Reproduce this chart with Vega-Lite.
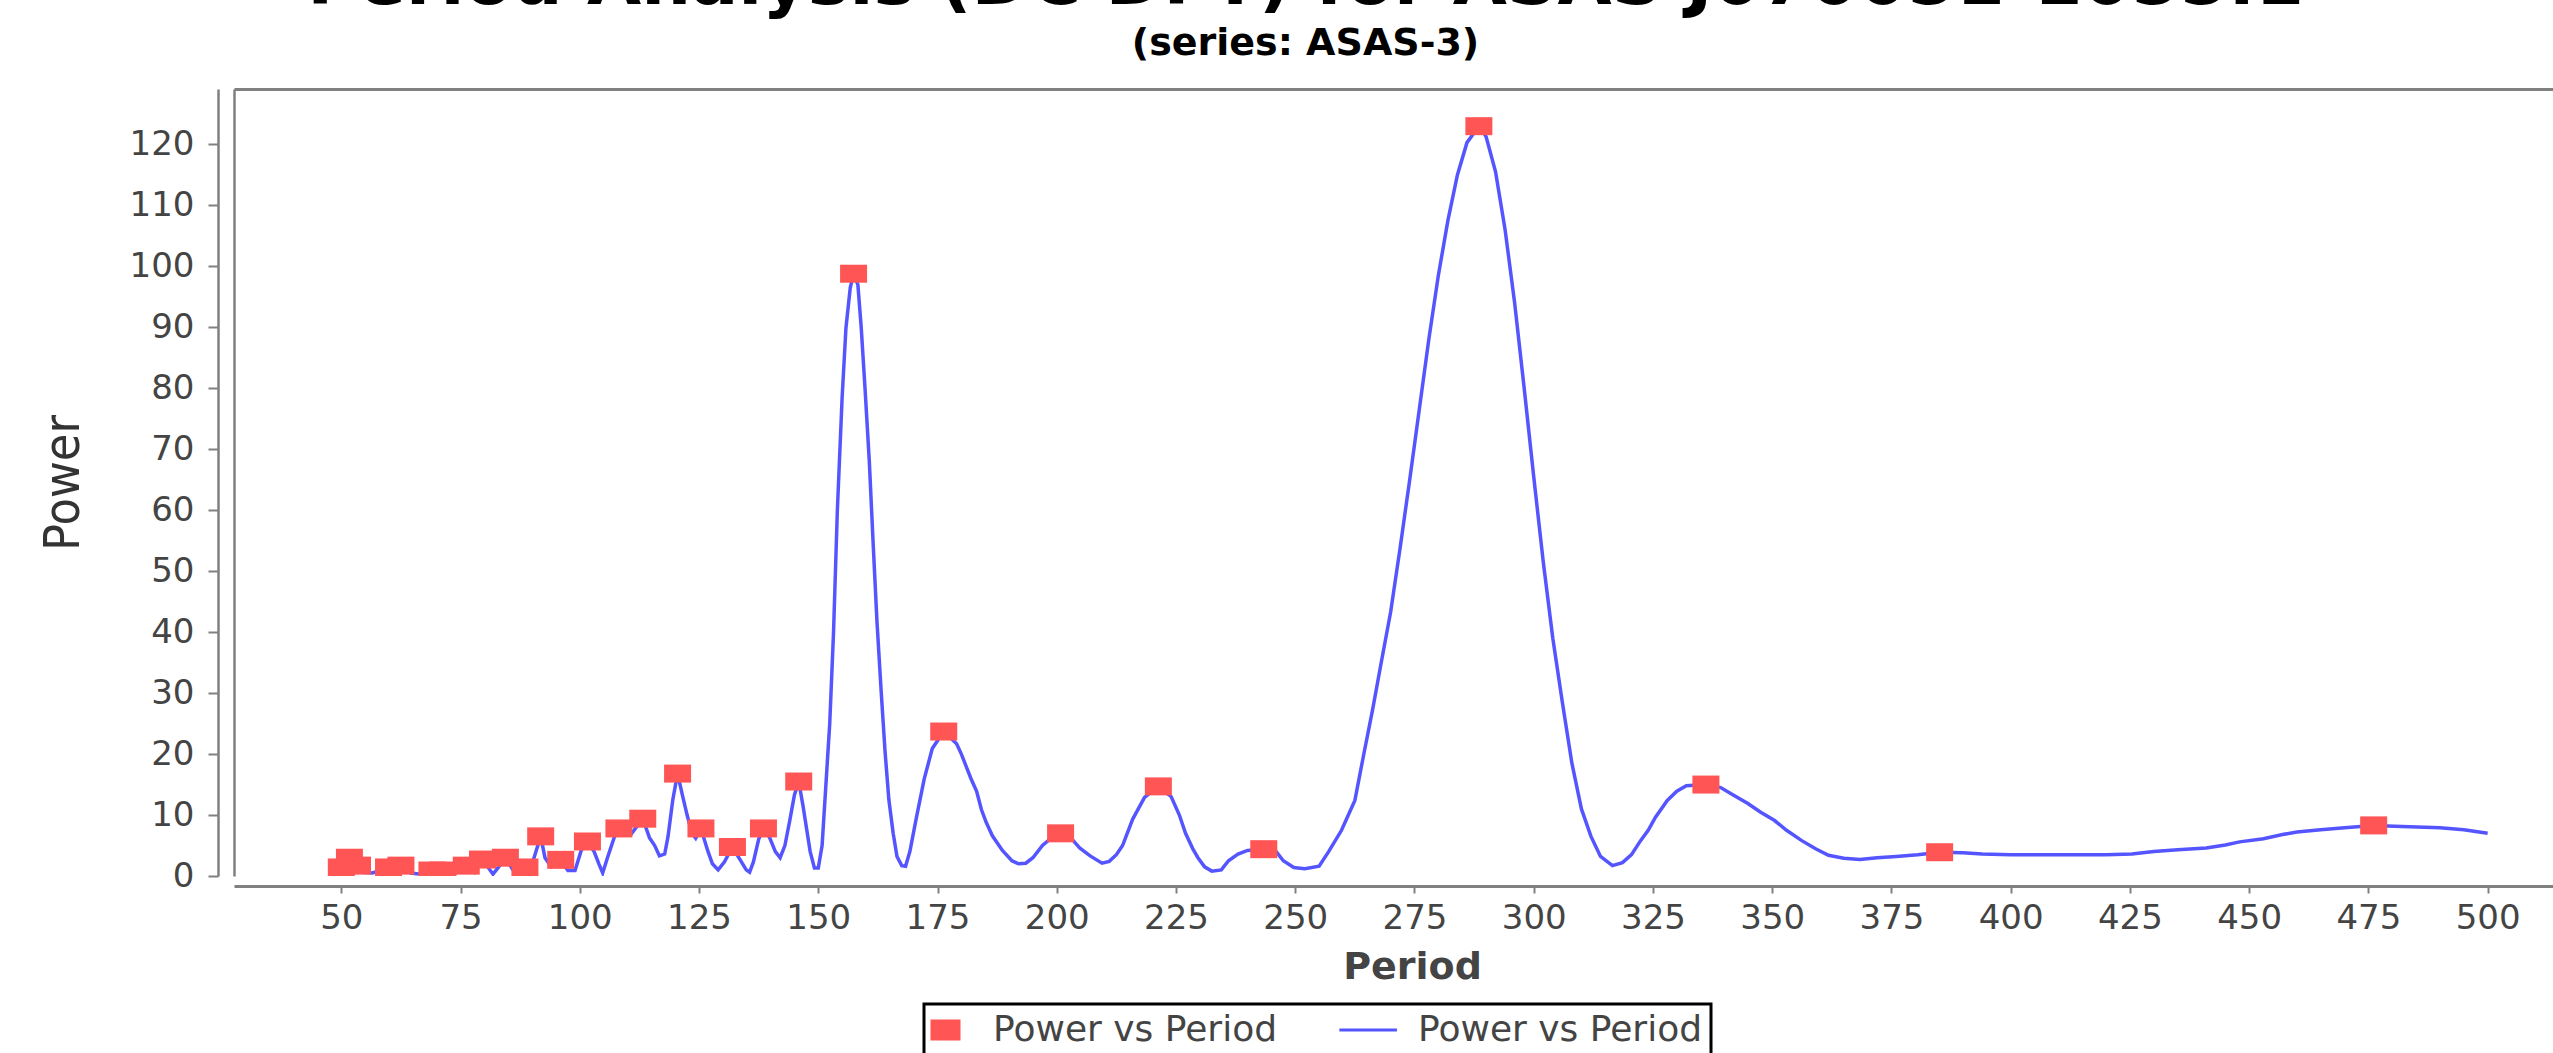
{
  "$schema": "https://vega.github.io/schema/vega-lite/v6.json",
  "autosize": {"type": "none"},
  "width": 2319,
  "height": 787,
  "padding": {"left": 234, "top": 89, "right": 0, "bottom": 177},
  "background": "white",
  "config": {"view": {"stroke": null}},
  "title": {
    "text": "Period Analysis (DC DFT) for ASAS J070051-1055.1",
    "subtitle": "(series: ASAS-3)",
    "anchor": "middle",
    "frame": "group",
    "dx": -88,
    "offset": 25,
    "font": "DejaVu Sans",
    "fontSize": 70,
    "fontWeight": "bold",
    "color": "#000000",
    "subtitleFont": "DejaVu Sans",
    "subtitleFontSize": 38,
    "subtitleFontWeight": "bold",
    "subtitleColor": "#000000",
    "subtitlePadding": 6
  },
  "datasets": {
    "curve": [
      {"period": 50.0, "power": 1.4}, {"period": 50.8, "power": 0.8}, {"period": 51.7, "power": 3.0}, {"period": 52.6, "power": 1.2},
      {"period": 53.4, "power": 1.7}, {"period": 54.5, "power": 0.6}, {"period": 56.5, "power": 0.5}, {"period": 58.2, "power": 0.9},
      {"period": 59.9, "power": 1.4}, {"period": 61.2, "power": 0.7}, {"period": 62.5, "power": 1.7}, {"period": 64.5, "power": 0.5},
      {"period": 66.7, "power": 0.3}, {"period": 69.0, "power": 0.9}, {"period": 70.2, "power": 0.4}, {"period": 71.3, "power": 0.9},
      {"period": 73.6, "power": 0.3}, {"period": 76.2, "power": 1.7}, {"period": 77.9, "power": 0.6}, {"period": 79.6, "power": 2.7},
      {"period": 81.8, "power": 0.3}, {"period": 83.0, "power": 1.5}, {"period": 84.4, "power": 3.0}, {"period": 86.2, "power": 0.7},
      {"period": 87.2, "power": 0.6}, {"period": 88.5, "power": 1.4}, {"period": 89.5, "power": 0.7}, {"period": 90.6, "power": 3.5},
      {"period": 91.8, "power": 6.5}, {"period": 92.7, "power": 3.0}, {"period": 94.0, "power": 1.5}, {"period": 96.0, "power": 2.65},
      {"period": 97.5, "power": 0.9}, {"period": 99.0, "power": 0.9}, {"period": 100.3, "power": 4.2}, {"period": 101.6, "power": 5.66},
      {"period": 103.0, "power": 4.0}, {"period": 104.0, "power": 2.0}, {"period": 104.8, "power": 0.5}, {"period": 105.8, "power": 3.0},
      {"period": 107.2, "power": 6.3}, {"period": 108.2, "power": 7.8}, {"period": 110.7, "power": 6.8}, {"period": 113.2, "power": 9.4},
      {"period": 114.6, "power": 6.3}, {"period": 115.7, "power": 5.0}, {"period": 116.7, "power": 3.3}, {"period": 117.8, "power": 3.6},
      {"period": 118.5, "power": 6.5}, {"period": 119.5, "power": 12.5}, {"period": 120.5, "power": 16.8}, {"period": 121.5, "power": 13.3},
      {"period": 122.5, "power": 10.0}, {"period": 123.5, "power": 7.0}, {"period": 124.3, "power": 6.2}, {"period": 125.4, "power": 7.8},
      {"period": 126.8, "power": 4.2}, {"period": 127.8, "power": 2.0}, {"period": 129.0, "power": 1.0}, {"period": 130.3, "power": 2.3},
      {"period": 132.0, "power": 4.76}, {"period": 133.5, "power": 2.8}, {"period": 134.9, "power": 1.0}, {"period": 135.6, "power": 0.6},
      {"period": 136.4, "power": 2.3}, {"period": 137.5, "power": 6.0}, {"period": 138.5, "power": 7.8}, {"period": 139.8, "power": 6.3},
      {"period": 141.0, "power": 4.0}, {"period": 142.0, "power": 3.0}, {"period": 143.0, "power": 5.0}, {"period": 144.0, "power": 9.0},
      {"period": 145.0, "power": 13.3}, {"period": 145.9, "power": 15.5}, {"period": 146.8, "power": 11.5}, {"period": 147.6, "power": 7.5},
      {"period": 148.3, "power": 4.0}, {"period": 149.2, "power": 1.3}, {"period": 150.0, "power": 1.3}, {"period": 150.8, "power": 5.0},
      {"period": 151.6, "power": 15.0}, {"period": 152.4, "power": 25.0}, {"period": 153.2, "power": 40.0}, {"period": 154.0, "power": 60.0},
      {"period": 155.0, "power": 78.5}, {"period": 155.8, "power": 89.9}, {"period": 156.7, "power": 96.5}, {"period": 157.4, "power": 98.8},
      {"period": 158.3, "power": 97.0}, {"period": 159.0, "power": 90.0}, {"period": 159.8, "power": 80.0}, {"period": 160.7, "power": 68.0},
      {"period": 161.5, "power": 54.6}, {"period": 162.3, "power": 41.8}, {"period": 163.2, "power": 30.1}, {"period": 164.0, "power": 20.4},
      {"period": 164.8, "power": 12.5}, {"period": 165.7, "power": 7.0}, {"period": 166.5, "power": 3.2}, {"period": 167.5, "power": 1.7},
      {"period": 168.3, "power": 1.6}, {"period": 169.2, "power": 4.0}, {"period": 170.5, "power": 9.3}, {"period": 172.2, "power": 15.9},
      {"period": 173.9, "power": 20.9}, {"period": 176.3, "power": 23.7}, {"period": 179.0, "power": 21.7}, {"period": 180.0, "power": 20.0},
      {"period": 181.0, "power": 18.0}, {"period": 182.0, "power": 16.0}, {"period": 183.2, "power": 13.9}, {"period": 184.2, "power": 10.9},
      {"period": 185.2, "power": 8.8}, {"period": 186.5, "power": 6.6}, {"period": 188.6, "power": 4.2}, {"period": 190.6, "power": 2.5},
      {"period": 192.0, "power": 2.0}, {"period": 193.5, "power": 2.1}, {"period": 195.0, "power": 3.0}, {"period": 197.0, "power": 5.0},
      {"period": 198.5, "power": 6.0}, {"period": 200.8, "power": 7.0}, {"period": 203.0, "power": 6.2}, {"period": 204.8, "power": 4.6},
      {"period": 207.0, "power": 3.3}, {"period": 209.5, "power": 2.1}, {"period": 211.0, "power": 2.4}, {"period": 212.5, "power": 3.5},
      {"period": 213.8, "power": 5.0}, {"period": 215.9, "power": 9.3}, {"period": 218.4, "power": 12.9}, {"period": 221.3, "power": 14.7},
      {"period": 224.0, "power": 13.0}, {"period": 225.7, "power": 10.0}, {"period": 227.0, "power": 7.0}, {"period": 228.5, "power": 4.5},
      {"period": 229.6, "power": 3.0}, {"period": 231.0, "power": 1.5}, {"period": 232.5, "power": 0.8}, {"period": 234.5, "power": 1.0},
      {"period": 236.0, "power": 2.5}, {"period": 238.0, "power": 3.6}, {"period": 240.0, "power": 4.2}, {"period": 243.4, "power": 4.4},
      {"period": 246.0, "power": 4.0}, {"period": 247.5, "power": 2.5}, {"period": 249.7, "power": 1.4}, {"period": 252.0, "power": 1.2},
      {"period": 255.0, "power": 1.6}, {"period": 257.0, "power": 4.0}, {"period": 259.7, "power": 7.5}, {"period": 262.5, "power": 12.4},
      {"period": 264.4, "power": 20.1}, {"period": 266.2, "power": 27.2}, {"period": 268.0, "power": 34.9}, {"period": 270.0, "power": 43.3},
      {"period": 272.0, "power": 53.9}, {"period": 274.0, "power": 65.0}, {"period": 276.0, "power": 76.5}, {"period": 278.0, "power": 88.0},
      {"period": 280.0, "power": 98.5}, {"period": 282.0, "power": 107.5}, {"period": 284.0, "power": 115.0}, {"period": 286.0, "power": 120.3},
      {"period": 288.5, "power": 123.0}, {"period": 290.0, "power": 121.3}, {"period": 292.0, "power": 115.5}, {"period": 294.0, "power": 106.0},
      {"period": 296.0, "power": 94.0}, {"period": 298.0, "power": 80.0}, {"period": 300.0, "power": 65.5}, {"period": 302.0, "power": 51.5},
      {"period": 304.0, "power": 39.0}, {"period": 306.0, "power": 28.5}, {"period": 308.0, "power": 18.5}, {"period": 310.0, "power": 11.0},
      {"period": 312.0, "power": 6.5}, {"period": 314.0, "power": 3.2}, {"period": 316.5, "power": 1.7}, {"period": 318.6, "power": 2.2},
      {"period": 320.5, "power": 3.5}, {"period": 322.4, "power": 5.8}, {"period": 324.0, "power": 7.5}, {"period": 325.5, "power": 9.6},
      {"period": 328.0, "power": 12.4}, {"period": 330.0, "power": 13.9}, {"period": 332.0, "power": 14.8}, {"period": 336.1, "power": 15.0},
      {"period": 339.2, "power": 14.5}, {"period": 342.0, "power": 13.2}, {"period": 344.9, "power": 11.9}, {"period": 347.5, "power": 10.5},
      {"period": 350.5, "power": 9.1}, {"period": 353.0, "power": 7.5}, {"period": 356.2, "power": 5.8}, {"period": 359.0, "power": 4.5},
      {"period": 361.8, "power": 3.4}, {"period": 365.0, "power": 2.9}, {"period": 368.4, "power": 2.7}, {"period": 372.0, "power": 3.0},
      {"period": 376.0, "power": 3.2}, {"period": 380.5, "power": 3.5}, {"period": 385.1, "power": 3.9}, {"period": 390.0, "power": 3.8},
      {"period": 394.0, "power": 3.6}, {"period": 400.0, "power": 3.5}, {"period": 410.0, "power": 3.5}, {"period": 420.0, "power": 3.5},
      {"period": 425.4, "power": 3.6}, {"period": 430.0, "power": 4.0}, {"period": 435.0, "power": 4.3}, {"period": 441.0, "power": 4.6},
      {"period": 445.0, "power": 5.1}, {"period": 448.0, "power": 5.6}, {"period": 453.0, "power": 6.1}, {"period": 457.0, "power": 6.8},
      {"period": 460.0, "power": 7.2}, {"period": 465.0, "power": 7.6}, {"period": 470.0, "power": 7.9}, {"period": 476.1, "power": 8.3},
      {"period": 482.0, "power": 8.1}, {"period": 490.0, "power": 7.9}, {"period": 495.0, "power": 7.6}, {"period": 500.0, "power": 7.0}
    ],
    "peaks": [
      {"period": 50.0, "power": 1.4}, {"period": 51.7, "power": 3.0}, {"period": 53.4, "power": 1.7}, {"period": 59.9, "power": 1.4},
      {"period": 62.5, "power": 1.7}, {"period": 69.0, "power": 0.9}, {"period": 71.3, "power": 0.9}, {"period": 76.2, "power": 1.7},
      {"period": 79.6, "power": 2.7}, {"period": 84.4, "power": 3.0}, {"period": 88.5, "power": 1.4}, {"period": 91.8, "power": 6.5},
      {"period": 96.0, "power": 2.65}, {"period": 101.6, "power": 5.66}, {"period": 108.2, "power": 7.8}, {"period": 113.2, "power": 9.4},
      {"period": 120.5, "power": 16.8}, {"period": 125.4, "power": 7.8}, {"period": 132.0, "power": 4.76}, {"period": 138.5, "power": 7.8},
      {"period": 145.9, "power": 15.5}, {"period": 157.4, "power": 98.8}, {"period": 176.3, "power": 23.7}, {"period": 200.8, "power": 7.0},
      {"period": 221.3, "power": 14.7}, {"period": 243.4, "power": 4.4}, {"period": 288.5, "power": 123.0}, {"period": 336.1, "power": 15.0},
      {"period": 385.1, "power": 3.9}, {"period": 476.1, "power": 8.3}
    ]
  },
  "layer": [
    {
      "data": {"name": "curve"},
      "mark": {"type": "line", "strokeWidth": 3.5, "clip": true},
      "encoding": {
        "x": {
          "field": "period", "type": "quantitative",
          "scale": {"domain": [27.5, 513.7], "nice": false, "zero": false},
          "axis": {
            "orient": "bottom", "offset": 10, "grid": false,
            "values": [50, 75, 100, 125, 150, 175, 200, 225, 250, 275, 300, 325, 350, 375, 400, 425, 450, 475, 500],
            "tickSize": 7, "tickWidth": 2, "tickColor": "#808080",
            "domainColor": "#808080", "domainWidth": 3,
            "labelFont": "DejaVu Sans", "labelFontSize": 34, "labelColor": "#444444", "labelPadding": 8,
            "labelFlush": false, "labelOverlap": false,
            "title": "Period", "titleFont": "DejaVu Sans", "titleFontSize": 38, "titleFontWeight": "bold",
            "titleColor": "#444444", "titleX": 1178, "titleY": 92, "titleBaseline": "alphabetic", "titleAlign": "center"
          }
        },
        "y": {
          "field": "power", "type": "quantitative",
          "scale": {"domain": [0, 129.1], "nice": false, "zero": false},
          "axis": {
            "orient": "left", "offset": 16, "grid": false,
            "values": [0, 10, 20, 30, 40, 50, 60, 70, 80, 90, 100, 110, 120],
            "tickSize": 10, "tickWidth": 2, "tickColor": "#808080",
            "domainColor": "#808080", "domainWidth": 2.5,
            "labelFont": "DejaVu Sans", "labelFontSize": 34, "labelColor": "#444444", "labelPadding": 14,
            "labelFlush": false, "labelOverlap": false,
            "title": "Power", "titleFont": "DejaVu Sans Condensed, Liberation Sans Narrow, Liberation Sans, sans-serif", "titleFontSize": 50, "titleFontWeight": "normal",
            "titleColor": "#333333", "titleX": -155, "titleY": 393.5, "titleAngle": 270,
            "titleAlign": "center", "titleBaseline": "middle"
          }
        },
        "color": {
          "datum": "line", "type": "nominal",
          "scale": {"domain": ["pts", "line"], "range": ["#ff5555", "#5555ff"]},
          "legend": {
            "orient": "none", "legendX": 690, "legendY": 915, "direction": "horizontal", "title": null,
            "labelExpr": "'Power vs Period'", "labelFont": "DejaVu Sans", "labelFontSize": 36, "labelColor": "#444444",
            "labelLimit": 600, "labelOffset": 25, "columnPadding": 55, "padding": 8, "symbolSize": 324,
            "fillColor": "white", "strokeColor": "black",
            "encode": {
              "legend": {"update": {"strokeWidth": {"value": 3}}},
              "symbols": {"update": {
                "shape": {"signal": "datum.value === 'line' ? 'M-3.96,0H2.44' : 'M-2,-1H1V1H-2Z'"},
                "fill": {"signal": "datum.value === 'line' ? 'transparent' : '#ff5555'"},
                "stroke": {"signal": "datum.value === 'line' ? '#5555ff' : 'transparent'"},
                "strokeWidth": {"value": 3},
                "size": {"value": 324},
                "opacity": {"value": 1}
              }}
            }
          }
        }
      }
    },
    {
      "data": {"name": "peaks"},
      "mark": {"type": "point", "shape": "M-1.5,-1H1.5V1H-1.5Z", "size": 324, "filled": true, "opacity": 1, "clip": true},
      "encoding": {
        "x": {
          "field": "period", "type": "quantitative",
          "scale": {"domain": [27.5, 513.7], "nice": false, "zero": false},
          "axis": {"orient": "top", "labels": false, "ticks": false, "title": null, "grid": false, "domainColor": "#808080", "domainWidth": 3}
        },
        "y": {
          "field": "power", "type": "quantitative",
          "scale": {"domain": [0, 129.1], "nice": false, "zero": false},
          "axis": {"orient": "left", "offset": 0, "labels": false, "ticks": false, "title": null, "grid": false, "domainColor": "#808080", "domainWidth": 2.5}
        },
        "color": {
          "datum": "pts", "type": "nominal",
          "legend": {
            "orient": "none", "legendX": 690, "legendY": 915, "direction": "horizontal", "title": null,
            "labelExpr": "'Power vs Period'", "labelFont": "DejaVu Sans", "labelFontSize": 36, "labelColor": "#444444",
            "labelLimit": 600, "labelOffset": 25, "columnPadding": 55, "padding": 8, "symbolSize": 324,
            "fillColor": "white", "strokeColor": "black",
            "encode": {
              "legend": {"update": {"strokeWidth": {"value": 3}}},
              "symbols": {"update": {
                "shape": {"signal": "datum.value === 'line' ? 'M-3.96,0H2.44' : 'M-2,-1H1V1H-2Z'"},
                "fill": {"signal": "datum.value === 'line' ? 'transparent' : '#ff5555'"},
                "stroke": {"signal": "datum.value === 'line' ? '#5555ff' : 'transparent'"},
                "strokeWidth": {"value": 3},
                "size": {"value": 324},
                "opacity": {"value": 1}
              }}
            }
          }
        }
      }
    },
    {
      "mark": {"type": "rule", "color": "#808080", "strokeWidth": 2},
      "encoding": {"y": {"datum": 0, "type": "quantitative", "axis": null}}
    },
    {
      "mark": {"type": "rule", "color": "#2a2a66", "strokeWidth": 2, "strokeDash": [3, 3]},
      "encoding": {"y": {"datum": 0, "type": "quantitative", "axis": null}}
    }
  ],
  "resolve": {"axis": {"x": "independent", "y": "independent"}}
}
